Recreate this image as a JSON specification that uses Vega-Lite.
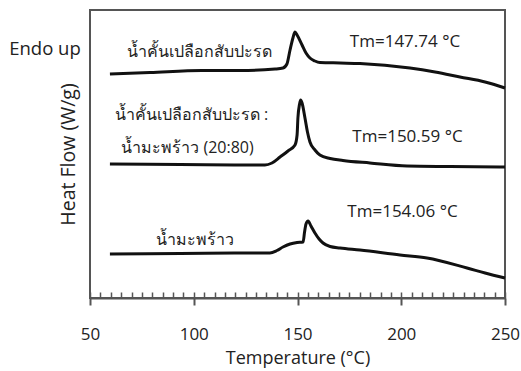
{
  "$schema": "https://vega.github.io/schema/vega-lite/v6.json",
  "width": 415,
  "height": 288,
  "autosize": {"type": "none"},
  "padding": {"left": 90, "top": 10, "right": 16, "bottom": 73},
  "background": "white",
  "config": {
    "view": {"stroke": "#555", "strokeWidth": 2},
    "font": "Open Sans"
  },
  "datasets": {
    "curves": [
      {"sample": "A", "T": 59.6, "hf": 224},
      {"sample": "A", "T": 78.9, "hf": 225.5},
      {"sample": "A", "T": 104.0, "hf": 227.5},
      {"sample": "A", "T": 122.3, "hf": 227.5},
      {"sample": "A", "T": 139.2, "hf": 229},
      {"sample": "A", "T": 143.0, "hf": 230},
      {"sample": "A", "T": 144.9, "hf": 234},
      {"sample": "A", "T": 146.4, "hf": 248},
      {"sample": "A", "T": 147.8, "hf": 260},
      {"sample": "A", "T": 148.8, "hf": 266},
      {"sample": "A", "T": 149.8, "hf": 263},
      {"sample": "A", "T": 152.2, "hf": 253},
      {"sample": "A", "T": 154.1, "hf": 245},
      {"sample": "A", "T": 156.0, "hf": 240},
      {"sample": "A", "T": 158.4, "hf": 237},
      {"sample": "A", "T": 160.8, "hf": 235.5},
      {"sample": "A", "T": 170.5, "hf": 235},
      {"sample": "A", "T": 180.1, "hf": 234.5},
      {"sample": "A", "T": 204.2, "hf": 230},
      {"sample": "A", "T": 216.3, "hf": 226},
      {"sample": "A", "T": 228.3, "hf": 221},
      {"sample": "A", "T": 240.4, "hf": 216},
      {"sample": "A", "T": 250.0, "hf": 210},
      {"sample": "B", "T": 59.6, "hf": 134},
      {"sample": "B", "T": 93.4, "hf": 133.5},
      {"sample": "B", "T": 122.3, "hf": 133},
      {"sample": "B", "T": 134.3, "hf": 133},
      {"sample": "B", "T": 137.7, "hf": 135},
      {"sample": "B", "T": 141.6, "hf": 141},
      {"sample": "B", "T": 145.4, "hf": 147},
      {"sample": "B", "T": 148.8, "hf": 153},
      {"sample": "B", "T": 149.8, "hf": 163},
      {"sample": "B", "T": 150.2, "hf": 180},
      {"sample": "B", "T": 151.0, "hf": 194},
      {"sample": "B", "T": 151.5, "hf": 198},
      {"sample": "B", "T": 152.2, "hf": 195},
      {"sample": "B", "T": 153.6, "hf": 180},
      {"sample": "B", "T": 154.8, "hf": 166},
      {"sample": "B", "T": 156.0, "hf": 156},
      {"sample": "B", "T": 158.4, "hf": 148},
      {"sample": "B", "T": 160.8, "hf": 143},
      {"sample": "B", "T": 165.7, "hf": 139.5},
      {"sample": "B", "T": 171.9, "hf": 137.5},
      {"sample": "B", "T": 184.9, "hf": 135},
      {"sample": "B", "T": 202.8, "hf": 132},
      {"sample": "B", "T": 223.5, "hf": 131.5},
      {"sample": "B", "T": 250.0, "hf": 131},
      {"sample": "C", "T": 59.6, "hf": 44},
      {"sample": "C", "T": 93.4, "hf": 44.5},
      {"sample": "C", "T": 122.3, "hf": 45},
      {"sample": "C", "T": 136.7, "hf": 45},
      {"sample": "C", "T": 140.1, "hf": 47.5},
      {"sample": "C", "T": 143.0, "hf": 51},
      {"sample": "C", "T": 146.4, "hf": 54},
      {"sample": "C", "T": 149.8, "hf": 55.5},
      {"sample": "C", "T": 152.7, "hf": 56},
      {"sample": "C", "T": 153.4, "hf": 66},
      {"sample": "C", "T": 154.1, "hf": 74},
      {"sample": "C", "T": 155.1, "hf": 77},
      {"sample": "C", "T": 156.5, "hf": 72},
      {"sample": "C", "T": 158.4, "hf": 65},
      {"sample": "C", "T": 160.4, "hf": 59},
      {"sample": "C", "T": 162.3, "hf": 55},
      {"sample": "C", "T": 165.7, "hf": 51.5},
      {"sample": "C", "T": 170.5, "hf": 50},
      {"sample": "C", "T": 180.1, "hf": 48},
      {"sample": "C", "T": 199.4, "hf": 43},
      {"sample": "C", "T": 212.4, "hf": 40},
      {"sample": "C", "T": 231.7, "hf": 30},
      {"sample": "C", "T": 240.4, "hf": 25},
      {"sample": "C", "T": 250.0, "hf": 20}
    ],
    "thai": [
      {"T": 103.0, "hf": 241, "label": "น้ำคั้นเปลือกสับปะรด"},
      {"T": 98.9, "hf": 178, "label": "น้ำคั้นเปลือกสับปะรด :"},
      {"T": 97.0, "hf": 145, "label": "น้ำมะพร้าว (20:80)"},
      {"T": 100.6, "hf": 53, "label": "น้ำมะพร้าว"}
    ],
    "tm": [
      {"T": 201.8, "hf": 251.5, "label": "Tm=147.74 °C"},
      {"T": 203.0, "hf": 156, "label": "Tm=150.59 °C"},
      {"T": 200.6, "hf": 81, "label": "Tm=154.06 °C"}
    ],
    "endo": [
      {"T": 28.3, "hf": 243, "label": "Endo up"}
    ]
  },
  "layer": [
    {
      "data": {"name": "curves"},
      "mark": {"type": "line", "color": "#111", "strokeWidth": 3, "interpolate": "monotone"},
      "encoding": {
        "x": {
          "field": "T", "type": "quantitative",
          "scale": {"domain": [50, 250], "nice": false, "zero": false},
          "axis": {
            "orient": "bottom",
            "values": [50, 100, 150, 200, 250],
            "tickSize": 7, "tickColor": "#555", "tickWidth": 2,
            "domain": true, "domainColor": "#555", "domainWidth": 2,
            "labelPadding": 21, "labelFontSize": 17, "labelColor": "#222", "labelFlush": false,
            "title": "Temperature (°C)", "titleFontSize": 18, "titleFontWeight": "normal",
            "titleColor": "#222", "titlePadding": 7, "grid": false
          }
        },
        "y": {
          "field": "hf", "type": "quantitative",
          "scale": {"domain": [0, 288], "nice": false, "zero": false},
          "axis": {
            "title": "Heat Flow (W/g)", "ticks": false, "labels": false, "domain": false, "grid": false,
            "titleFontSize": 19.5, "titleFontWeight": "normal", "titleColor": "#222", "titlePadding": 12
          }
        },
        "detail": {"field": "sample"}
      }
    },
    {
      "data": {"name": "thai"},
      "mark": {"type": "text", "fontSize": 16, "color": "#222", "baseline": "alphabetic", "align": "center"},
      "encoding": {
        "x": {
          "field": "T", "type": "quantitative",
          "scale": {"domain": [50, 250], "nice": false, "zero": false},
          "axis": {
            "orient": "bottom", "offset": -6,
            "values": [50, 55, 60, 65, 70, 75, 80, 85, 90, 95, 100, 105, 110, 115, 120, 125, 130, 135, 140, 145, 150, 155, 160, 165, 170, 175, 180, 185, 190, 195, 200, 205, 210, 215, 220, 225, 230, 235, 240, 245, 250],
            "tickSize": 6, "tickColor": "#555", "tickWidth": 1.5,
            "labels": false, "domain": false, "title": null, "grid": false
          }
        },
        "y": {
          "field": "hf", "type": "quantitative",
          "scale": {"domain": [0, 288], "nice": false, "zero": false},
          "axis": {
            "title": "Heat Flow (W/g)", "ticks": false, "labels": false, "domain": false, "grid": false,
            "titleFontSize": 19.5, "titleFontWeight": "normal", "titleColor": "#222", "titlePadding": 12
          }
        },
        "text": {"field": "label"}
      }
    },
    {
      "data": {"name": "tm"},
      "mark": {"type": "text", "fontSize": 17, "color": "#222", "baseline": "alphabetic", "align": "center"},
      "encoding": {
        "x": {"field": "T", "type": "quantitative", "scale": {"domain": [50, 250], "nice": false, "zero": false}, "axis": null},
        "y": {"field": "hf", "type": "quantitative", "scale": {"domain": [0, 288], "nice": false, "zero": false}},
        "text": {"field": "label"}
      }
    },
    {
      "data": {"name": "endo"},
      "mark": {"type": "text", "fontSize": 18.5, "color": "#222", "baseline": "alphabetic", "align": "center"},
      "encoding": {
        "x": {"field": "T", "type": "quantitative", "scale": {"domain": [50, 250], "nice": false, "zero": false}, "axis": null},
        "y": {"field": "hf", "type": "quantitative", "scale": {"domain": [0, 288], "nice": false, "zero": false}},
        "text": {"field": "label"}
      }
    }
  ],
  "resolve": {"axis": {"x": "independent"}}
}
